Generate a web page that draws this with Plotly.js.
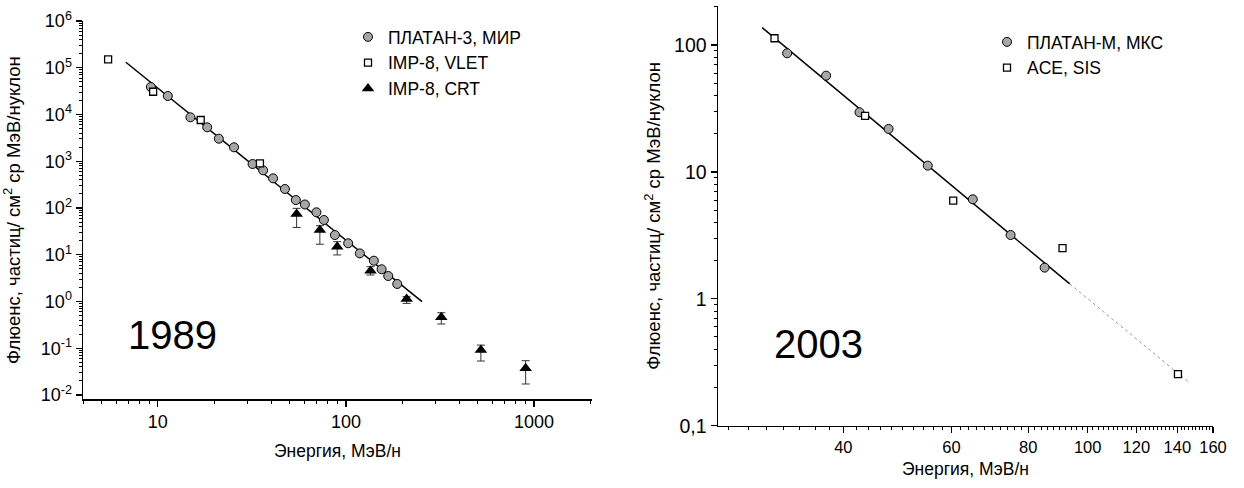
<!DOCTYPE html>
<html>
<head>
<meta charset="utf-8">
<script src="https://cdn.plot.ly/plotly-3.0.1.min.js"></script>
<style>html,body{margin:0;padding:0;background:#fff;}#chart{width:1244px;height:488px;}</style>
</head>
<body>
<div id="chart"></div>
<script>
// ---- 1989 panel data ----
const platan3E = [9.18, 11.3, 14.9, 18.3, 21.1, 25.4, 31.9, 36.3, 41.0, 47.4, 54.2, 60.5, 69.7, 76.4, 87.4, 102.8, 118.6, 140.8, 154.8, 167.9, 187.5];
const platan3F = [38700, 24900, 8710, 5320, 3035, 1987, 873, 640, 431, 255, 148, 119, 80.9, 55.4, 26.4, 17.6, 10.7, 7.46, 4.89, 3.51, 2.37];
const vletE = [5.44, 9.44, 16.9, 34.9];
const vletF = [151700, 30700, 7620, 904];
const crtE = [54.7, 72.7, 89.9, 135.2, 210.4, 321.5, 522, 903];
const crtF = [74.4, 33.8, 14.9, 4.56, 1.13, 0.459, 0.0918, 0.0372];
const crtErrUp = [24, 8, 4.1, 1.0, 0.14, 0.116, 0.025, 0.017];
const crtErrDown = [36, 17, 5.0, 0.87, 0.22, 0.129, 0.0385, 0.020];
const fit1989E = [6.76, 254];
const fit1989F = [131000, 0.99];

// ---- 2003 panel data ----
const platanME = [32.4, 37.5, 42.5, 47.4, 54.9, 65.0, 74.9, 85.1];
const platanMF = [86.0, 57.3, 29.5, 21.8, 11.2, 6.08, 3.18, 1.76];
const aceE = [30.9, 43.4, 60.4, 91.0, 140.3];
const aceF = [113, 27.6, 5.93, 2.51, 0.255];
const fit2003E = [29.5, 93.5];
const fit2003F = [137, 1.31];
const ext2003E = [93.5, 145.8];
const ext2003F = [1.31, 0.222];

// tick labels
const leftYTickVals = [1e-2, 1e-1, 1e0, 1e1, 1e2, 1e3, 1e4, 1e5, 1e6];
const leftYTickText = ['10<sup>-2</sup>', '10<sup>-1</sup>', '10<sup>0</sup>', '10<sup>1</sup>', '10<sup>2</sup>', '10<sup>3</sup>', '10<sup>4</sup>', '10<sup>5</sup>', '10<sup>6</sup>'];
const leftXTickVals = [10, 100, 1000];
const rightXTickVals = [40, 60, 80, 100, 120, 140, 160];
const rightYTickVals = [0.1, 1, 10, 100];
const rightYTickText = ['0,1', '1', '10', '100'];

// minor tick positions (axis decoration)
function logMinors(expFrom, expTo) {
  const out = [];
  for (let e = expFrom; e <= expTo; e++) for (let d = 2; d <= 9; d++) out.push(d * Math.pow(10, e));
  return out;
}
const leftXMinor = [4, 5, 6, 7, 8, 9].concat(logMinors(1, 2)).concat([2000]);
const leftYMinor = logMinors(-2, 5);
const rightYMinor = logMinors(-1, 2).filter(v => v < 203);
const rightXMinor = [];
for (let v = 26; v < 160; v += 2) if (rightXTickVals.indexOf(v) < 0) rightXMinor.push(v);

const FONT = 'Arial, "Liberation Sans", sans-serif';

const circleMarker = {symbol: 'circle', size: 9, color: '#a6a6a6', line: {color: '#000', width: 1}};
const squareMarker = {symbol: 'square', size: 7, color: '#fff', line: {color: '#000', width: 1.3}};

const traces = [
  {x: fit1989E, y: fit1989F, mode: 'lines', line: {color: '#000', width: 1.5}, showlegend: false, xaxis: 'x', yaxis: 'y', hoverinfo: 'skip'},
  {x: platan3E, y: platan3F, mode: 'markers', name: 'ПЛАТАН-3, МИР', marker: circleMarker, xaxis: 'x', yaxis: 'y', legend: 'legend'},
  {x: vletE, y: vletF, mode: 'markers', name: 'IMP-8, VLET', marker: squareMarker, xaxis: 'x', yaxis: 'y', legend: 'legend'},
  {x: crtE, y: crtF, mode: 'markers', name: 'IMP-8, CRT', marker: {symbol: 'triangle-up', size: 11, color: '#000'},
   error_y: {type: 'data', symmetric: false, array: crtErrUp, arrayminus: crtErrDown, color: '#333', thickness: 1, width: 4},
   xaxis: 'x', yaxis: 'y', legend: 'legend'},

  {x: fit2003E, y: fit2003F, mode: 'lines', line: {color: '#000', width: 1.5}, showlegend: false, xaxis: 'x2', yaxis: 'y2', hoverinfo: 'skip'},
  {x: ext2003E, y: ext2003F, mode: 'lines', line: {color: '#999', width: 1, dash: 'dot'}, showlegend: false, xaxis: 'x2', yaxis: 'y2', hoverinfo: 'skip'},
  {x: platanME, y: platanMF, mode: 'markers', name: 'ПЛАТАН-М, МКС', marker: circleMarker, xaxis: 'x2', yaxis: 'y2', legend: 'legend2'},
  {x: aceE, y: aceF, mode: 'markers', name: 'ACE, SIS', marker: squareMarker, xaxis: 'x2', yaxis: 'y2', legend: 'legend2'}
];

const axisCommon = {
  type: 'log', showgrid: false, zeroline: false, showline: true, linecolor: '#000', linewidth: 1.5,
  ticks: 'outside', ticklen: 6, tickwidth: 1.3, tickcolor: '#000',
  tickfont: {family: FONT, size: 18, color: '#000'}, mirror: false, automargin: false
};
const minorCommon = {tickmode: 'array', ticks: 'outside', ticklen: 3, tickwidth: 1, tickcolor: '#000', showgrid: false};
const xTitleFont = {family: FONT, size: 17.5, color: '#000'};
const yTitleFont = {family: FONT, size: 18.5, color: '#000'};

const layout = {
  width: 1244, height: 488,
  margin: {l: 0, r: 0, t: 0, b: 0},
  paper_bgcolor: '#fff', plot_bgcolor: '#fff',
  font: {family: FONT, color: '#000'},
  xaxis: Object.assign({}, axisCommon, {
    domain: [83 / 1244, 592 / 1244], range: [Math.log10(4), 3.3085], anchor: 'y',
    tickmode: 'array', tickvals: leftXTickVals, ticktext: ['10', '100', '1000'],
    minor: Object.assign({}, minorCommon, {tickvals: leftXMinor}),
    title: {text: 'Энергия, МэВ/н', font: xTitleFont, standoff: 13}
  }),
  yaxis: Object.assign({}, axisCommon, {
    domain: [1 - 399.3 / 488, 1 - 21 / 488], range: [-2.092, 6], anchor: 'x',
    tickmode: 'array', tickvals: leftYTickVals, ticktext: leftYTickText,
    minor: Object.assign({}, minorCommon, {tickvals: leftYMinor}),
    title: {text: 'Флюенс, частиц/ см<sup>2</sup> ср МэВ/нуклон', font: yTitleFont, standoff: 15}
  }),
  xaxis2: Object.assign({}, axisCommon, {
    domain: [718 / 1244, 1213 / 1244], range: [Math.log10(25), Math.log10(160)], anchor: 'y2',
    tickmode: 'array', tickvals: rightXTickVals, ticktext: rightXTickVals.map(String),
    tickfont: {family: FONT, size: 16.5, color: '#000'},
    minor: Object.assign({}, minorCommon, {tickvals: rightXMinor}),
    title: {text: 'Энергия, МэВ/н', font: xTitleFont, standoff: 7}
  }),
  yaxis2: Object.assign({}, axisCommon, {
    domain: [1 - 425.7 / 488, 1 - 6 / 488], range: [-1, 2.307], anchor: 'x2',
    tickmode: 'array', tickvals: rightYTickVals, ticktext: rightYTickText,
    tickfont: {family: FONT, size: 19.5, color: '#000'},
    minor: Object.assign({}, minorCommon, {tickvals: rightYMinor}),
    title: {text: 'Флюенс, частиц/ см<sup>2</sup> ср МэВ/нуклон', font: yTitleFont, standoff: 8}
  }),
  legend: {x: 348 / 1244, y: 1 - 19 / 488, xanchor: 'left', yanchor: 'top', bgcolor: 'rgba(0,0,0,0)',
           font: {family: FONT, size: 17.5, color: '#000'}, tracegroupgap: 0},
  legend2: {x: 987 / 1244, y: 1 - 24 / 488, xanchor: 'left', yanchor: 'top', bgcolor: 'rgba(0,0,0,0)',
            font: {family: FONT, size: 17.5, color: '#000'}, tracegroupgap: 0},
  annotations: [
    {text: '1989', xref: 'paper', yref: 'paper', x: 172 / 1244, y: 1 - 335 / 488, xanchor: 'center', yanchor: 'middle',
     showarrow: false, font: {family: FONT, size: 40, color: '#000'}},
    {text: '2003', xref: 'paper', yref: 'paper', x: 818 / 1244, y: 1 - 344 / 488, xanchor: 'center', yanchor: 'middle',
     showarrow: false, font: {family: FONT, size: 40, color: '#000'}}
  ]
};

Plotly.newPlot('chart', traces, layout, {staticPlot: true, displayModeBar: false});
</script>
</body>
</html>
